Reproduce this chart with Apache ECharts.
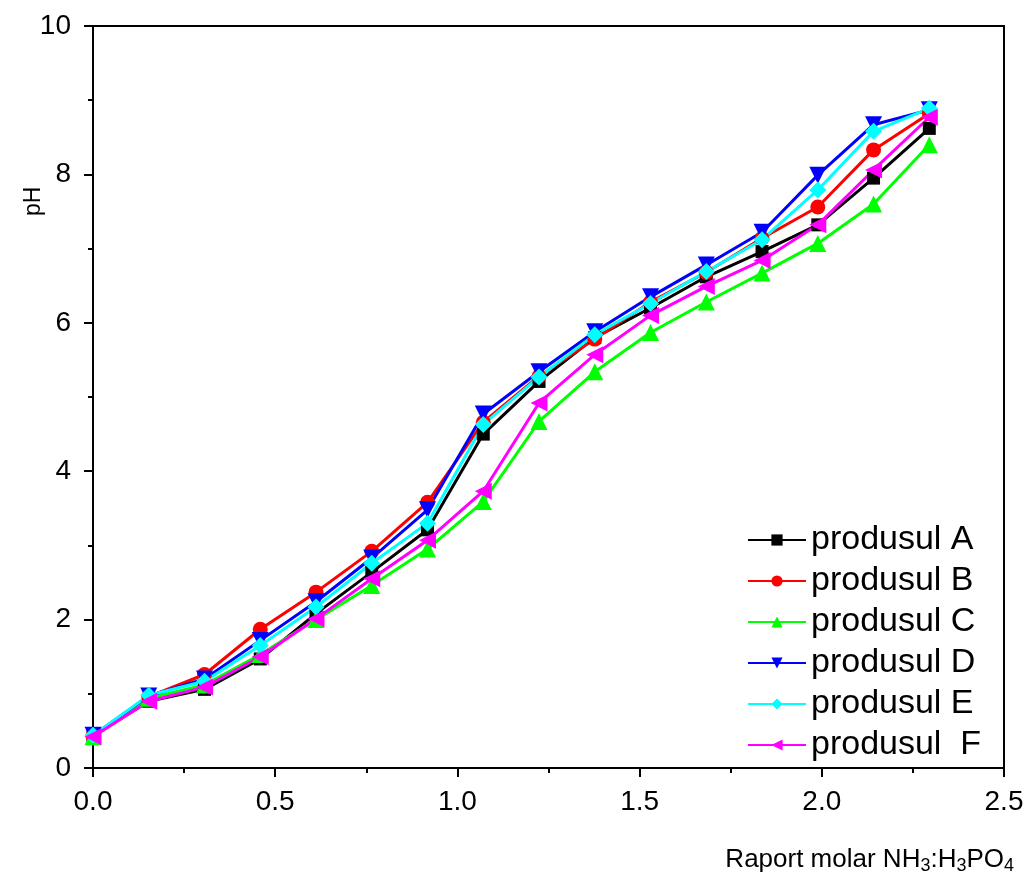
<!DOCTYPE html>
<html>
<head>
<meta charset="utf-8">
<script src="https://cdn.jsdelivr.net/npm/echarts@6/dist/echarts.min.js"></script>
<style>html,body{margin:0;padding:0;background:#fff;}#c{width:1028px;height:878px;}</style>
</head>
<body>
<div id="c"></div>
<script>
const xValues = [0, 0.153, 0.306, 0.459, 0.612, 0.765, 0.918, 1.071, 1.224, 1.377, 1.530, 1.683, 1.836, 1.989, 2.142, 2.295];
const seriesNames = ['produsul A', 'produsul B', 'produsul C', 'produsul D', 'produsul E', 'produsul  F'];
const phA = [0.43, 0.90, 1.06, 1.47, 2.08, 2.64, 3.21, 4.50, 5.21, 5.80, 6.20, 6.62, 6.96, 7.32, 7.95, 8.62];
const phB = [0.43, 0.96, 1.26, 1.87, 2.37, 2.92, 3.58, 4.66, 5.28, 5.78, 6.28, 6.68, 7.14, 7.56, 8.33, 8.82];
const phC = [0.42, 0.94, 1.12, 1.53, 2.00, 2.46, 2.95, 3.59, 4.67, 5.34, 5.87, 6.28, 6.67, 7.07, 7.60, 8.40];
const phD = [0.44, 0.97, 1.20, 1.72, 2.24, 2.83, 3.48, 4.77, 5.34, 5.88, 6.35, 6.78, 7.22, 7.99, 8.67, 8.87];
const phE = [0.44, 0.98, 1.17, 1.65, 2.17, 2.76, 3.30, 4.63, 5.27, 5.84, 6.26, 6.69, 7.12, 7.79, 8.58, 8.89];
const phF = [0.42, 0.90, 1.09, 1.50, 2.01, 2.55, 3.07, 3.73, 4.92, 5.57, 6.10, 6.49, 6.84, 7.32, 8.06, 8.77];
const allPh = [phA, phB, phC, phD, phE, phF];

const colors = ['#000000', '#ff0000', '#00ff00', '#0000ff', '#00ffff', '#ff00ff'];
const symbols = ['rect', 'circle', 'triangle', 'triangle', 'diamond', 'triangle'];
const rotations = [0, 0, 0, 180, 0, 90];
const sizes = [13, 15, 17, 17, 17, 17];

const chart = echarts.init(document.getElementById('c'));
const font = 'Liberation Sans, Arial, sans-serif';

const series = allPh.map((vals, i) => ({
  name: seriesNames[i],
  type: 'line',
  data: vals.map((v, j) => [xValues[j], v]),
  symbol: symbols[i],
  symbolRotate: rotations[i],
  symbolSize: sizes[i],
  showAllSymbol: true,
  lineStyle: { color: colors[i], width: 3 },
  itemStyle: { color: colors[i] },
  emphasis: { disabled: true },
  animation: false
}));

chart.setOption({
  animation: false,
  grid: { left: 93, right: 24, top: 26, bottom: 110, show: true, borderColor: '#000', borderWidth: 2, backgroundColor: 'transparent' },
  graphic: [{
    type: 'text',
    x: 22, y: 216,
    rotation: Math.PI / 2,
    style: { text: 'pH', fontSize: 23, fontFamily: font, fill: '#000' }
  }],
  legend: {
    orient: 'vertical',
    left: 742,
    top: 518,
    itemWidth: 58,
    itemHeight: 14,
    itemGap: 7,
    textStyle: { fontSize: 34, fontFamily: font, color: '#000', lineHeight: 34 },
    data: seriesNames
  },
  xAxis: {
    type: 'value',
    min: 0, max: 2.5, interval: 0.5,
    name: 'Raport molar NH{s|3}:H{s|3}PO{s|4}',
    nameLocation: 'end',
    nameGap: 0,
    nameTextStyle: {
      fontSize: 26, fontFamily: font, color: '#000',
      align: 'right', verticalAlign: 'top', padding: [76, -10, 0, 0],
      rich: { s: { fontSize: 18, fontFamily: font, color: '#000', verticalAlign: 'top', padding: [13, 0, 0, 0] } }
    },
    axisLine: { lineStyle: { color: '#000', width: 2 } },
    axisTick: { show: true, inside: false, length: 9, lineStyle: { color: '#000', width: 2 } },
    minorTick: { show: true, splitNumber: 2, length: 5, lineStyle: { color: '#000', width: 2 } },
    splitLine: { show: false },
    axisLabel: { fontSize: 28, fontFamily: font, color: '#000', margin: 20, formatter: v => v.toFixed(1) }
  },
  yAxis: {
    type: 'value',
    min: 0, max: 10, interval: 2,
    axisLine: { lineStyle: { color: '#000', width: 2 } },
    axisTick: { show: true, inside: false, length: 9, lineStyle: { color: '#000', width: 2 } },
    minorTick: { show: true, splitNumber: 2, length: 5, lineStyle: { color: '#000', width: 2 } },
    splitLine: { show: false },
    axisLabel: { fontSize: 28, fontFamily: font, color: '#000', margin: 22 }
  },
  series: series
});
</script>
</body>
</html>
